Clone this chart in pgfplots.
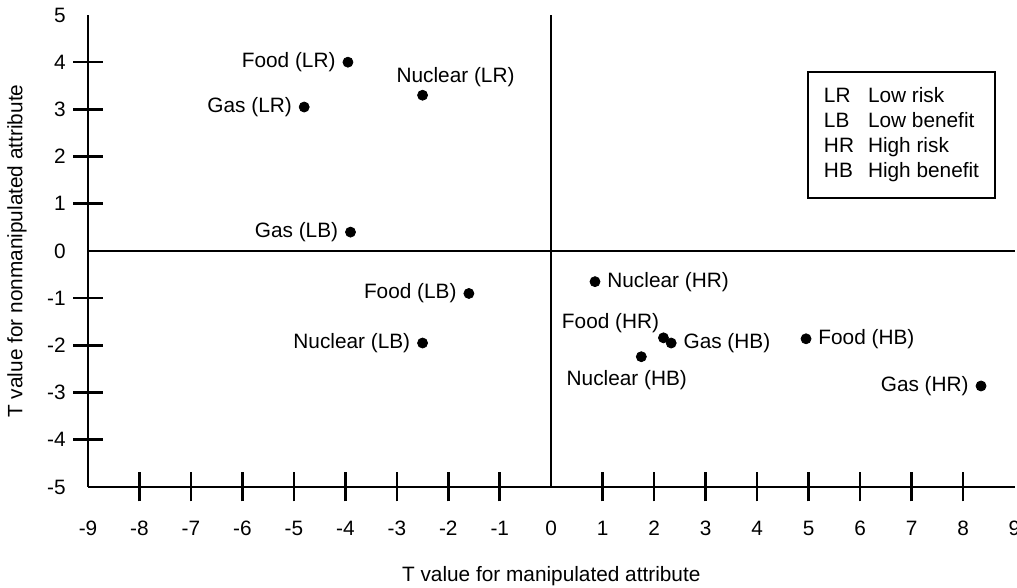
\documentclass[border=0pt]{standalone}
\usepackage{pgfplots}
\pgfplotsset{compat=1.18}
\usepackage{fontspec}
\setmainfont{Liberation Sans}
\newcommand\ff{\fontsize{10.4}{12.5}\selectfont}
\begin{document}
\begin{tikzpicture}
\begin{axis}[
  scale only axis, width=463.25pt, height=236pt,
  xmin=-9, xmax=9, ymin=-5, ymax=5,
  axis lines=left,
  axis line style={-, line width=1.2pt, black},
  xtick={-9,...,9},
  xticklabels={-9,-8,-7,-6,-5,-4,-3,-2,-1,0,1,2,3,4,5,6,7,8,9},
  ytick={-5,...,5},
  yticklabels={-5,-4,-3,-2,-1,0,1,2,3,4,5},
  minor xtick={-8,-7,-6,-5,-4,-3,-2,-1,1,2,3,4,5,6,7,8},
  minor ytick={-4,-3,-2,-1,1,2,3,4},
  major tick length=0pt,
  minor tick length=14.5pt,
  tick align=center,
  tick style={line width=1.3pt, black},
  xticklabel style={font=\ff, inner sep=0pt, anchor=north, yshift=-17pt},
  yticklabel style={font=\ff, inner sep=0pt, anchor=east, xshift=-11pt},
  xlabel={T value for manipulated attribute},
  ylabel={T value for nonmanipulated attribute},
  xlabel style={font=\ff, inner sep=0pt, at={(axis description cs:0.5,0)}, anchor=base, yshift=-47.5pt},
  ylabel style={font=\ff, inner sep=0pt, at={([xshift=-30.5pt]axis description cs:0,0.5)}, anchor=south},
  nodes near coords style={font=\ff, inner sep=0pt, black},
  clip=false,
]
\addplot[black, line width=1pt, forget plot] coordinates {(0,-5) (0,5)};
\addplot[black, line width=1pt, forget plot] coordinates {(-9,0) (9,0)};
% labels to the left
\addplot[only marks, mark=*, mark size=2.5pt, black, nodes near coords, point meta=explicit symbolic,
  every node near coord/.append style={anchor=east, xshift=-6pt}] coordinates {
  (-3.95,4.0) [Food (LR)]
  (-4.8,3.05) [Gas (LR)]
  (-3.9,0.4) [Gas (LB)]
  (-1.6,-0.9) [Food (LB)]
  (-2.5,-1.95) [Nuclear (LB)]
  (8.35,-2.86) [Gas (HR)]
};
% labels to the right
\addplot[only marks, mark=*, mark size=2.5pt, black, nodes near coords, point meta=explicit symbolic,
  every node near coord/.append style={anchor=west, xshift=6pt}] coordinates {
  (0.85,-0.65) [Nuclear (HR)]
  (2.33,-1.95) [Gas (HB)]
  (4.95,-1.86) [Food (HB)]
};
% label above
\addplot[only marks, mark=*, mark size=2.5pt, black, nodes near coords, point meta=explicit symbolic,
  every node near coord/.append style={anchor=south, xshift=16.5pt, yshift=4pt}] coordinates {
  (-2.5,3.3) [Nuclear (LR)]
};
% label above left
\addplot[only marks, mark=*, mark size=2.5pt, black, nodes near coords, point meta=explicit symbolic,
  every node near coord/.append style={anchor=south east, xshift=-2pt, yshift=2.5pt}] coordinates {
  (2.18,-1.84) [Food (HR)]
};
% label below
\addplot[only marks, mark=*, mark size=2.5pt, black, nodes near coords, point meta=explicit symbolic,
  every node near coord/.append style={anchor=north, xshift=-7.25pt, yshift=-6.5pt}] coordinates {
  (1.75,-2.24) [Nuclear (HB)]
};
\node[draw=black, line width=0.9pt, minimum width=93.5pt, minimum height=63pt, inner sep=0pt, font=\ff]
  at (axis cs:6.805,2.458)
  {\begin{tabular}{@{}l@{\hspace{7pt}}l@{}}LR & Low risk\\ LB & Low benefit\\ HR & High risk\\ HB & High benefit\end{tabular}};
\end{axis}
\pgfresetboundingbox
\path[use as bounding box] ([shift={(-44pt,-50.5pt)}]current axis.south west) rectangle ([shift={(1.25pt,7.5pt)}]current axis.north east);
\end{tikzpicture}
\end{document}
